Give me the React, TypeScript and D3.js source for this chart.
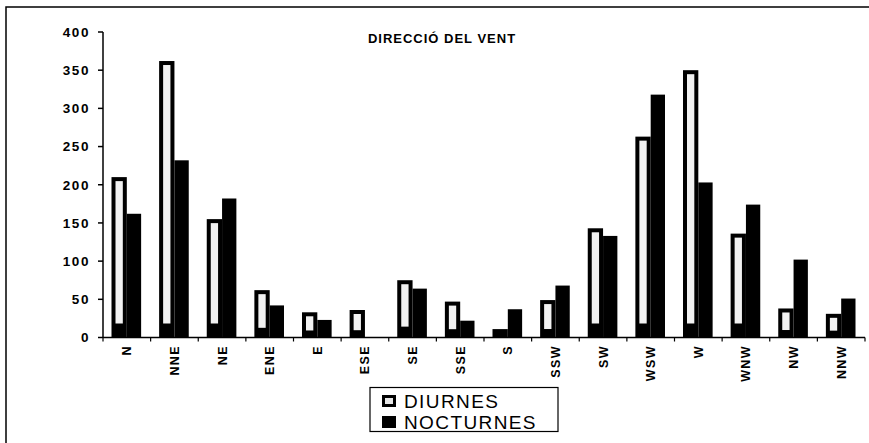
import React from 'react';
import * as d3 from 'd3';

const directions = ['N', 'NNE', 'NE', 'ENE', 'E', 'ESE', 'SE', 'SSE', 'S', 'SSW', 'SW', 'WSW', 'W', 'WNW', 'NW', 'NNW'];
const diurnes = [210, 362, 155, 62, 33, 36, 75, 47, 11, 49, 143, 263, 350, 136, 38, 31];
const nocturnes = [162, 232, 182, 42, 23, 0, 64, 22, 37, 68, 133, 318, 203, 174, 102, 51];
const seriesNames = ['DIURNES', 'NOCTURNES'];
const yTicks = [0, 50, 100, 150, 200, 250, 300, 350, 400];

const W = 869;
const H = 443;
const font = '"Liberation Sans", Arial, sans-serif';

const App: React.FC = () => {
  const x = d3.scaleBand<string>()
    .domain(directions)
    .range([103, 865])
    .paddingInner(0.357)
    .paddingOuter(0.357 / 2);

  const x1 = d3.scaleBand<string>()
    .domain(seriesNames)
    .range([0, x.bandwidth()]);

  const y = d3.scaleLinear()
    .domain([0, 400])
    .range([337.5, 32]);

  const step = x.step();
  const bounds = d3.range(0, directions.length + 1).map(i => 103 + i * step);

  // diurnes: black bar with a light core (scanned hatch look)
  const diurnBar = (cx: number, top: number, w: number) => {
    const h = y(0) - top;
    const inset = 4;
    const bottomInset = Math.min(14, h * 0.12 + 4);
    const innerH = h - inset - bottomInset;
    return (
      <g>
        <rect x={cx} y={top} width={w} height={h} fill="#000" />
        {innerH > 0 && (
          <rect x={cx + inset} y={top + inset} width={w - 2 * inset} height={innerH} fill="#f2f2f2" />
        )}
      </g>
    );
  };

  return (
    <svg width={W} height={H} style={{ position: 'absolute', left: 0, top: 0, background: '#fff' }} fontFamily={font}>
      {/* outer frame */}
      <rect x={6} y={7} width={W + 10} height={H + 10} fill="none" stroke="#000" strokeWidth={1.5} />

      <text x={442} y={43} textAnchor="middle" fontSize={13} fontWeight="bold" letterSpacing={1}>
        DIRECCIÓ DEL VENT
      </text>

      {/* bars */}
      {directions.map((d, i) => {
        const x0 = x(d) ?? 0;
        const bw = x1.bandwidth();
        return (
          <g key={d}>
            {diurnBar(x0 + (x1('DIURNES') ?? 0), y(diurnes[i]), bw)}
            {nocturnes[i] > 0 && (
              <rect
                x={x0 + (x1('NOCTURNES') ?? 0)}
                y={y(nocturnes[i])}
                width={bw - 1}
                height={y(0) - y(nocturnes[i])}
                fill="#000"
              />
            )}
          </g>
        );
      })}

      {/* y axis */}
      <line x1={103} x2={103} y1={y(400)} y2={y(0)} stroke="#000" strokeWidth={1.5} />
      {yTicks.map(t => (
        <g key={t}>
          <line x1={98} x2={103} y1={y(t)} y2={y(t)} stroke="#000" strokeWidth={1.5} />
          <text x={90} y={y(t)} dy="0.36em" textAnchor="end" fontSize={13.5} fontWeight="bold" letterSpacing={1.6}>
            {t}
          </text>
        </g>
      ))}

      {/* x axis */}
      <line x1={103} x2={865} y1={y(0)} y2={y(0)} stroke="#000" strokeWidth={1.5} />
      {bounds.map((b, i) => (
        <line key={i} x1={b} x2={b} y1={y(0)} y2={y(0) + 4} stroke="#000" strokeWidth={1.2} />
      ))}
      {directions.map(d => {
        const cx = (x(d) ?? 0) + x.bandwidth() / 2;
        return (
          <text
            key={d}
            transform={`translate(${cx},345) rotate(-90)`}
            dy="0.36em"
            textAnchor="end"
            fontSize={12.5}
            fontWeight="bold"
            letterSpacing={1.4}
          >
            {d}
          </text>
        );
      })}

      {/* legend */}
      <rect x={370} y={387.5} width={188} height={44} fill="#fff" stroke="#000" strokeWidth={1.2} />
      <rect x={382} y={395} width={14} height={12} fill="#000" />
      <rect x={385} y={398} width={8} height={6} fill="#e6e6e6" />
      <text x={404} y={407.5} fontSize={19} letterSpacing={1.4}>{seriesNames[0]}</text>
      <rect x={382} y={416} width={14} height={12} fill="#000" />
      <text x={404} y={428.5} fontSize={19} letterSpacing={1.4}>{seriesNames[1]}</text>
    </svg>
  );
};

export default App;
